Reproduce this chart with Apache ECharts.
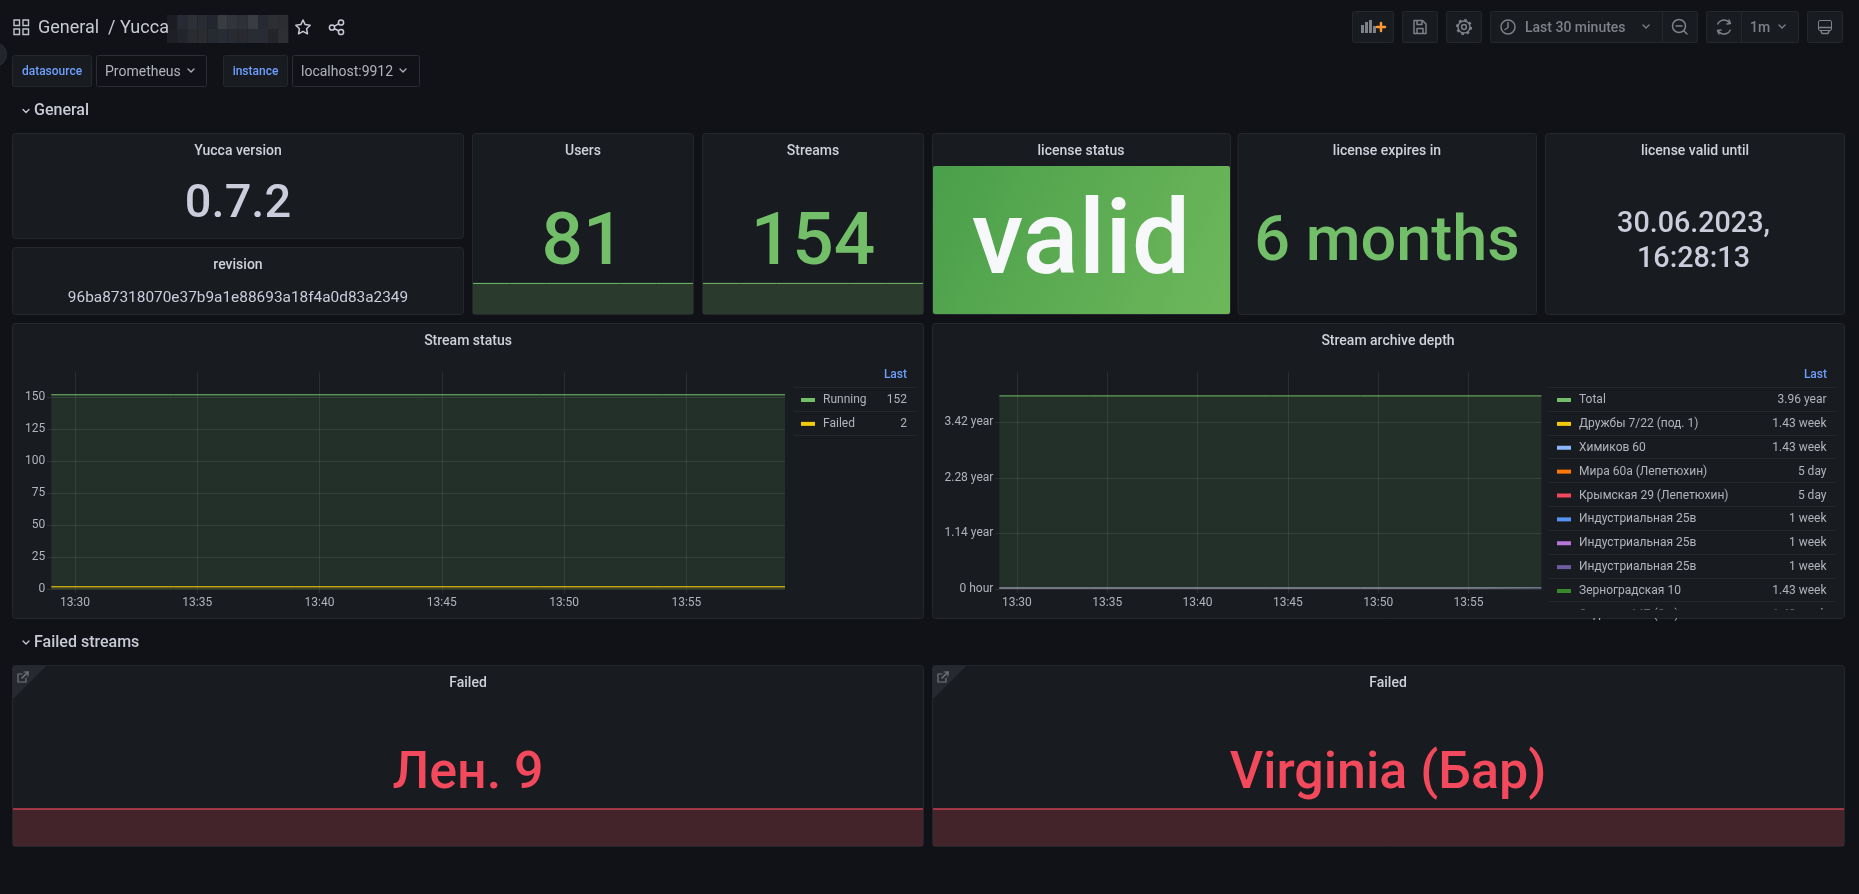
<!DOCTYPE html>
<html>
<head>
<meta charset="utf-8">
<title>General / Yucca</title>
<style>
  html, body { margin: 0; height: 100%; background: #111217; overflow: hidden; }
  #dashboard { width: 100vw; height: 100vh; }
</style>
<script src="https://cdn.jsdelivr.net/npm/echarts@6/dist/echarts.min.js"></script>
</head>
<body>
<div id="dashboard"></div>
<script>
const timePoints = ["2022-12-28 13:29:02", "2022-12-28 13:34:02", "2022-12-28 13:39:02", "2022-12-28 13:44:02", "2022-12-28 13:49:02", "2022-12-28 13:54:02", "2022-12-28 13:59:02"];

const runningValues = [152, 152, 152, 152, 152, 152, 152];
const failedValues = [2, 2, 2, 2, 2, 2, 2];
const usersValues = [81, 81, 81, 81, 81, 81, 81];
const streamsValues = [154, 154, 154, 154, 154, 154, 154];
const failedFlagA = [1, 1, 1, 1, 1, 1, 1];
const failedFlagB = [1, 1, 1, 1, 1, 1, 1];

const statusNames = ["Running", "Failed"];
const statusLast = ["152", "2"];

const archiveNames = ["Total", "Дружбы 7/22 (под. 1)", "Химиков 60", "Мира 60а (Лепетюхин)", "Крымская 29 (Лепетюхин)", "Индустриальная 25в", "Индустриальная 25в", "Индустриальная 25в", "Зерноградская 10", "Садовая 147 (2п.)"];
const archiveLast = ["3.96 year", "1.43 week", "1.43 week", "5 day", "5 day", "1 week", "1 week", "1 week", "1.43 week", "1.43 week"];
// depth in years
const archiveDepth = [
  [3.96, 3.96, 3.96, 3.96, 3.96, 3.96, 3.96],
  [0.0274, 0.0274, 0.0274, 0.0274, 0.0274, 0.0274, 0.0274],
  [0.0274, 0.0274, 0.0274, 0.0274, 0.0274, 0.0274, 0.0274],
  [0.0137, 0.0137, 0.0137, 0.0137, 0.0137, 0.0137, 0.0137],
  [0.0137, 0.0137, 0.0137, 0.0137, 0.0137, 0.0137, 0.0137],
  [0.0192, 0.0192, 0.0192, 0.0192, 0.0192, 0.0192, 0.0192],
  [0.0192, 0.0192, 0.0192, 0.0192, 0.0192, 0.0192, 0.0192],
  [0.0192, 0.0192, 0.0192, 0.0192, 0.0192, 0.0192, 0.0192],
  [0.0274, 0.0274, 0.0274, 0.0274, 0.0274, 0.0274, 0.0274],
  [0.0274, 0.0274, 0.0274, 0.0274, 0.0274, 0.0274, 0.0274],
];
const archiveTicks = { 0: "0 hour", 1.14: "1.14 year", 2.28: "2.28 year", 3.42: "3.42 year" };

const GREEN = "#73bf69";
const YELLOW = "#f2cc0c";
const RED = "#f2495c";
const PALETTE = [GREEN, YELLOW, "#8ab8ff", "#ff780a", RED, "#5794f2", "#b877d9", "#705da0", "#37872d", "#e0b400"];
// the near-zero lines pile up; the reference reads grey-blue there
const ARCHIVE_LINE_OPACITY = [1, 0.1, 0.5, 0.1, 0.1, 0.5, 0.1, 0.1, 0.1, 0.1];
const PANEL = "#181b1f";
const BORDER = "#24272c";
const TEXT = "#d0d1db";
const DIM = "#b2b4bc";
const BLUE = "#6e9fff";
const ICON = "#7f8188";
const GRID_LINE = "rgba(204,204,220,0.11)";
const FONT = "Roboto";

function rect(x, y, width, height, fill, stroke, r = 2, z = -5) {
  return { type: "rect", z, shape: { x, y, width, height, r }, style: { fill, stroke: stroke || null, lineWidth: 1 } };
}

// y is the middle of the digits; canvas "middle" sits a bit above that
function text(x, y, value, size, weight, fill, align = "center") {
  return { type: "text", z: 30, x, y: y + size * 0.085, style: { text: value, font: `${weight} ${size}px ${FONT}`, fill, align, verticalAlign: "middle" } };
}

function line(points, stroke = ICON, lineWidth = 1.5) {
  return { type: "polyline", z: 30, shape: { points }, style: { stroke, fill: null, lineWidth, lineCap: "round", lineJoin: "round" } };
}

function ring(cx, cy, r, stroke = ICON, lineWidth = 1.5, lineDash = null) {
  return { type: "circle", z: 30, shape: { cx, cy, r }, style: { stroke, fill: null, lineWidth, lineDash } };
}

function chevron(x, y, stroke = ICON) {
  return line([[x - 3, y - 1.5], [x, y + 1.5], [x + 3, y - 1.5]], stroke, 1.3);
}

function panels() {
  const boxes = [
    [12.5, 133.5, 451, 105], [12.5, 247.5, 451, 67], [472.5, 133.5, 221, 181], [702.5, 133.5, 221, 181],
    [932.5, 133.5, 298, 181], [1238, 133.5, 298.5, 181], [1545.5, 133.5, 299, 181],
    [12.5, 323.5, 911, 295], [932.5, 323.5, 912, 295], [12.5, 665.5, 911, 181], [932.5, 665.5, 912, 181],
  ];
  const els = boxes.map(([x, y, w, h]) => rect(x, y, w, h, PANEL, BORDER, 3, -6));
  els.push({
    type: "rect", z: -5, shape: { x: 933, y: 166, width: 297, height: 148, r: 2 },
    style: { fill: { type: "linear", x: 0, y: 0, x2: 1, y2: 1, colorStops: [{ offset: 0, color: "#4a9f4a" }, { offset: 1, color: "#6eb85b" }] } },
  });
  return els;
}

function cornerLink(x, y) {
  return [
    { type: "polygon", z: -4, shape: { points: [[x, y], [x + 33, y], [x, y + 33]] }, style: { fill: "#262a30" } },
    line([[x + 9, y + 8], [x + 5, y + 8], [x + 5, y + 16], [x + 13, y + 16], [x + 13, y + 12]], "#74767d", 1.2),
    line([[x + 9, y + 12], [x + 15, y + 6]], "#74767d", 1.5),
    line([[x + 11, y + 6], [x + 15, y + 6], [x + 15, y + 10]], "#74767d", 1.2),
  ];
}

function titleBar() {
  const topMosaic = ["#1b1d22", "#272a33", "#2e3036", "#2a2c33", "#23262e", "#3a3c44", "#33353c", "#2f3138", "#3a3c44", "#272933", "#2c2e33", "#2b2d30"];
  const lowMosaic = ["#1e2026", "#23252c", "#2a2c31", "#2a2c30", "#262a31", "#282c34", "#282b33", "#282a30", "#282c33", "#2a2c35", "#25242a", "#2d2f33"];
  const els = [];
  topMosaic.forEach((c, i) => els.push(rect(167 + i * 10.1, 15, 10.2, 14, c, null, 0)));
  lowMosaic.forEach((c, i) => els.push(rect(167 + i * 10.1, 29, 10.2, 14, c, null, 0)));

  els.push({ type: "circle", z: -4, shape: { cx: -5.5, cy: 54.5, r: 12 }, style: { fill: "#22252b", stroke: "#2c2f35" } });

  const gridIcon = "#c0c2cb";
  [[14, 20], [23, 20], [14, 29], [23, 29]].forEach(([x, y]) => {
    els.push({ type: "rect", z: 30, shape: { x, y, width: 5.5, height: 5.5 }, style: { stroke: gridIcon, fill: null, lineWidth: 1.4 } });
  });
  els.push(text(38, 27, "General", 18, 400, "#c8cad5", "left"));
  els.push(text(108, 27, "/ Yucca", 18, 400, "#c8cad5", "left"));

  const light = "#c8cad5";
  els.push({
    type: "polygon", z: 30,
    shape: { points: [[303, 20], [305.2, 24.6], [310.2, 25.3], [306.6, 28.8], [307.5, 33.8], [303, 31.4], [298.5, 33.8], [299.4, 28.8], [295.8, 25.3], [300.8, 24.6]] },
    style: { stroke: light, fill: null, lineWidth: 1.5, lineJoin: "round" },
  });
  els.push(ring(332, 27.5, 2.6, light), ring(341, 22.5, 2.6, light), ring(341, 32, 2.6, light));
  els.push(line([[334.4, 26.2], [338.6, 23.8]], light), line([[334.4, 28.8], [338.6, 30.8]], light));

  // variable pickers
  els.push(rect(12.5, 55.5, 79, 31, PANEL, BORDER), rect(96.5, 55.5, 110, 31, "#111217", "#2a2d33"));
  els.push(rect(223.5, 55.5, 64, 31, PANEL, BORDER), rect(292.5, 55.5, 127, 31, "#111217", "#2a2d33"));
  els.push(text(52, 71, "datasource", 12, 500, BLUE), text(255.5, 71, "instance", 12, 500, BLUE));
  els.push(text(105, 71, "Prometheus", 14, 400, DIM, "left"), text(301, 71, "localhost:9912", 14, 400, DIM, "left"));
  els.push(chevron(191, 70.5, DIM), chevron(403, 70.5, DIM));

  // row headers
  els.push(chevron(26, 111, "#c8cad5"), text(34, 110, "General", 16, 500, "#c8cad5", "left"));
  els.push(chevron(26, 642.5, "#c8cad5"), text(34, 641.5, "Failed streams", 16, 500, "#c8cad5", "left"));
  return els;
}

function toolbar() {
  const els = [
    rect(1352.5, 11.5, 41, 31, PANEL, BORDER), rect(1402.5, 11.5, 35, 31, PANEL, BORDER), rect(1446.5, 11.5, 35, 31, PANEL, BORDER),
    rect(1490.5, 11.5, 207, 31, PANEL, BORDER), rect(1706.5, 11.5, 92, 31, PANEL, BORDER), rect(1807.5, 11.5, 35, 31, PANEL, BORDER),
    line([[1662.5, 12], [1662.5, 42]], BORDER, 1), line([[1741.5, 12], [1741.5, 42]], BORDER, 1),
  ];
  // add panel
  [[1361, 25, 3, 8], [1365, 22, 3, 11], [1369, 20, 3, 13], [1373, 26, 3, 7]].forEach(([x, y, w, h]) => {
    els.push({ type: "rect", z: 30, shape: { x, y, width: w, height: h }, style: { fill: ICON } });
  });
  els.push(line([[1377, 27], [1385, 27]], "#ff9830", 2.5), line([[1381, 23], [1381, 31]], "#ff9830", 2.5));
  // save
  els.push(line([[1414, 20.5], [1422.5, 20.5], [1426, 24], [1426, 33.5], [1414, 33.5], [1414, 20.5]]), line([[1417, 21], [1417, 24.5], [1422, 24.5], [1422, 21]]));
  els.push(line([[1417, 33], [1417, 28.5], [1423, 28.5], [1423, 33]]));
  // settings
  els.push(ring(1464, 27, 7, ICON, 2.2, [2.6, 2.9]), ring(1464, 27, 6), ring(1464, 27, 2.4));
  // time range
  els.push(ring(1508, 27, 7), line([[1508, 22.5], [1508, 27.5], [1505, 29.5]]));
  els.push(text(1525, 27, "Last 30 minutes", 14, 500, ICON, "left"), chevron(1646, 26.5));
  els.push(ring(1679, 26, 6.5), line([[1676, 26], [1682, 26]]), line([[1684, 31], [1687, 34]]));
  // refresh
  els.push({ type: "arc", z: 30, shape: { cx: 1724, cy: 27, r: 7, startAngle: 3.5, endAngle: 5.7 }, style: { stroke: ICON, fill: null, lineWidth: 1.5 } });
  els.push({ type: "arc", z: 30, shape: { cx: 1724, cy: 27, r: 7, startAngle: 0.4, endAngle: 2.6 }, style: { stroke: ICON, fill: null, lineWidth: 1.5 } });
  els.push(line([[1729, 20], [1730.5, 23.5], [1727, 24]]), line([[1719, 34], [1717.5, 30.5], [1721, 30]]));
  els.push(text(1750, 27, "1m", 14, 500, ICON, "left"), chevron(1782, 26.5));
  // cycle view
  els.push(rect(1818.5, 20.5, 13, 10, null, ICON, 1.5, 30));
  els.push(line([[1819, 27.5], [1831, 27.5]]), line([[1821, 31], [1822, 33.5], [1828, 33.5], [1829, 31]]));
  return els;
}

function panelTexts() {
  return [
    text(238, 150.5, "Yucca version", 14, 500, TEXT), text(238, 201, "0.7.2", 47, 500, "#ccccdc"),
    text(238, 264.5, "revision", 14, 500, TEXT), text(238, 296.5, "96ba87318070e37b9a1e88693a18f4a0d83a2349", 15.4, 400, "#ccccdc"),
    text(583, 150.5, "Users", 14, 500, TEXT), text(583, 240, "81", 73, 500, GREEN),
    text(813, 150.5, "Streams", 14, 500, TEXT), text(813, 240, "154", 73, 500, GREEN),
    text(1081, 150.5, "license status", 14, 500, TEXT), text(1081, 238, "valid", 104, 500, "#f7f8fa"),
    text(1387, 150.5, "license expires in", 14, 500, TEXT), text(1387, 238.5, "6 months", 63, 500, GREEN),
    text(1695, 150.5, "license valid until", 14, 500, TEXT), text(1693.5, 222, "30.06.2023,", 28.7, 500, "#ccccdc"), text(1693.5, 257, "16:28:13", 28.7, 500, "#ccccdc"),
    text(468, 340.5, "Stream status", 14, 500, TEXT), text(1388, 340.5, "Stream archive depth", 14, 500, TEXT),
    text(468, 682, "Failed", 14, 500, TEXT), text(1388, 682, "Failed", 14, 500, TEXT),
    text(468, 771, "Лен. 9", 52, 500, RED), text(1388, 771, "Virginia (Бар)", 52, 500, RED),
    text(907, 374, "Last", 12, 500, BLUE, "right"), text(1827, 374, "Last", 12, 500, BLUE, "right"),
  ];
}

function legendRules() {
  const els = [];
  [387.5, 411.5, 435.5].forEach((y) => els.push(line([[794, y], [915, y]], BORDER, 1)));
  [387.5, 411.5, 435.5, 458.5, 482.5, 506.5, 530.5, 554.5, 578.5, 601.5].forEach((y) => els.push(line([[1549, y], [1835, y]], BORDER, 1)));
  // the legend table scrolls: its last row is cut off by the panel
  els.push(rect(1549, 609.5, 295, 8.5, PANEL, null, 0, 40));
  return els;
}

function timeAxis(gridIndex, visible) {
  return {
    type: "time", gridIndex, min: timePoints[0], max: timePoints[timePoints.length - 1], splitNumber: 5, show: visible,
    axisLine: { show: false },
    axisTick: { show: true, length: 4, lineStyle: { color: GRID_LINE } },
    axisLabel: { formatter: "{HH}:{mm}", color: DIM, fontFamily: FONT, fontSize: 12, margin: 8, showMinLabel: false, showMaxLabel: false, hideOverlap: true },
    splitLine: { show: visible, showMinLine: false, showMaxLine: false, lineStyle: { color: GRID_LINE } },
  };
}

function valueAxis(gridIndex, max, interval, formatter) {
  return {
    type: "value", gridIndex, min: 0, max, interval,
    axisLine: { show: false },
    axisTick: { show: true, length: 4, lineStyle: { color: GRID_LINE } },
    axisLabel: { color: DIM, fontFamily: FONT, fontSize: 12, margin: 6, showMaxLabel: false, padding: [0, 0, 3, 0], formatter },
    splitLine: { show: true, showMaxLine: false, lineStyle: { color: GRID_LINE } },
  };
}

function sparkAxis(gridIndex, max) {
  return { type: "value", gridIndex, min: 0, max, show: false, splitLine: { show: false } };
}

function lineSeries(name, values, color, axisIndex, areaOpacity, lineWidth = 1, lineOpacity = 1) {
  return {
    type: "line", name, xAxisIndex: axisIndex, yAxisIndex: axisIndex, showSymbol: false, silent: true,
    data: values.map((v, i) => [timePoints[i], v]),
    lineStyle: { color, width: lineWidth, opacity: lineOpacity },
    itemStyle: { color },
    areaStyle: { color, opacity: areaOpacity },
  };
}

function legend(left, names, lastValues, keys, nameWidth, valueWidth) {
  const labels = new Map(keys.map((k, i) => [k, `{n|${names[i]}}{v|${lastValues[i]}}`]));
  return {
    left, top: 392, padding: 0, orient: "vertical", icon: "rect", itemWidth: 14, itemHeight: 4, itemGap: 7.875, selectedMode: false, data: keys,
    formatter: (key) => labels.get(key),
    textStyle: {
      color: DIM, fontFamily: FONT, fontSize: 12, lineHeight: 16,
      rich: {
        n: { color: DIM, fontFamily: FONT, fontSize: 12, lineHeight: 16, width: nameWidth, padding: [0, 0, 0, 3] },
        v: { color: DIM, fontFamily: FONT, fontSize: 12, lineHeight: 16, width: valueWidth, align: "right" },
      },
    },
  };
}

const archiveKeys = archiveNames.map((name, i) => `${i}:${name}`);

const option = {
  backgroundColor: "#111217",
  animation: false,
  textStyle: { fontFamily: FONT },
  grid: [
    { left: 51.3, top: 372.5, width: 733.7, height: 216.8 },
    { left: 999.4, top: 372.5, width: 542, height: 216.5 },
    { left: 473, top: 280, width: 220, height: 34 },
    { left: 703, top: 280, width: 220, height: 34 },
    { left: 13, top: 805, width: 910, height: 41 },
    { left: 933, top: 805, width: 911, height: 41 },
  ],
  xAxis: [timeAxis(0, true), timeAxis(1, true), timeAxis(2, false), timeAxis(3, false), timeAxis(4, false), timeAxis(5, false)],
  yAxis: [
    valueAxis(0, 169.4, 25),
    valueAxis(1, 4.44, 1.14, (v) => archiveTicks[v] || ""),
    sparkAxis(2, 90), sparkAxis(3, 171), sparkAxis(4, 1.11), sparkAxis(5, 1.11),
  ],
  legend: [
    legend(801, statusNames, statusLast, statusNames, 60, 24),
    legend(1557, archiveNames, archiveLast, archiveKeys, 180, 67.5),
  ],
  series: [
    lineSeries(statusNames[0], runningValues, PALETTE[0], 0, 0.13),
    lineSeries(statusNames[1], failedValues, PALETTE[1], 0, 0.13),
    ...archiveKeys.map((key, i) => lineSeries(key, archiveDepth[i], PALETTE[i], 1, 0.13, 1, ARCHIVE_LINE_OPACITY[i])),
    lineSeries("Users", usersValues, GREEN, 2, 0.2),
    lineSeries("Streams", streamsValues, GREEN, 3, 0.2),
    lineSeries("Failed A", failedFlagA, RED, 4, 0.2, 2, 0.6),
    lineSeries("Failed B", failedFlagB, RED, 5, 0.2, 2, 0.6),
  ],
  graphic: {
    elements: [
      ...panels(), ...titleBar(), ...toolbar(), ...panelTexts(), ...legendRules(),
      ...cornerLink(13, 666), ...cornerLink(933, 666),
    ],
  },
};

const chart = echarts.init(document.getElementById("dashboard"));
chart.setOption(option);
window.addEventListener("resize", () => chart.resize());
</script>
</body>
</html>
